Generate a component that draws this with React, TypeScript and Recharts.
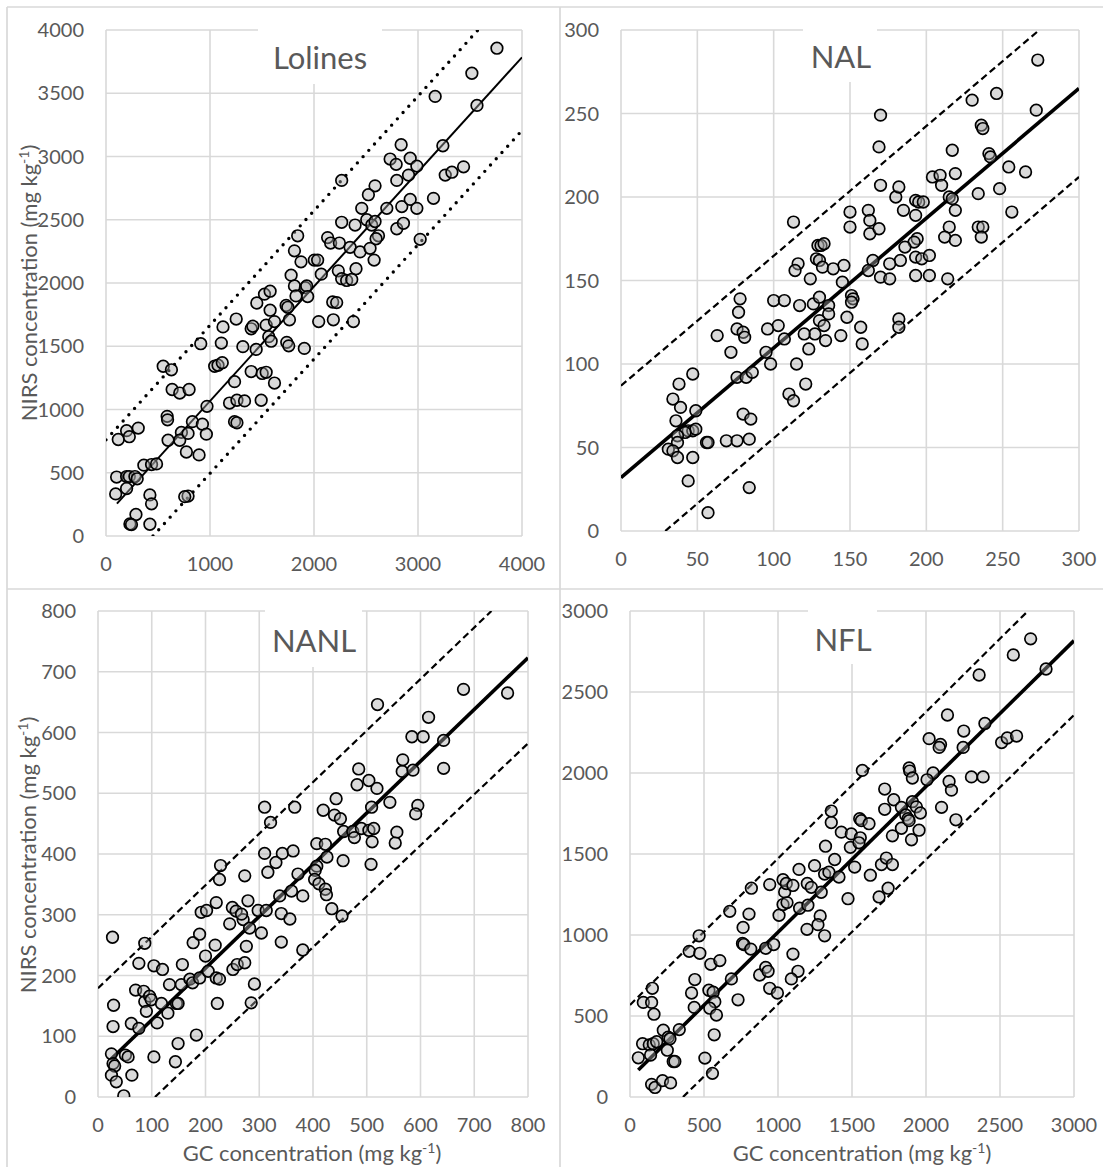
import React from 'react';
import { ScatterChart, Scatter, XAxis, YAxis, CartesianGrid, ReferenceLine } from 'recharts';

type Pt = [number, number];
type Seg = [Pt, Pt];

// ---------- Lolines ----------
const lolinesTicks = [0, 1000, 2000, 3000, 4000];
const lolinesYTicks = [0, 500, 1000, 1500, 2000, 2500, 3000, 3500, 4000];
const lolinesPoints: Pt[] = [
  [118, 763], [198, 833], [224, 785], [310, 853], [102, 466], [93, 333], [198, 470], [224, 470], [278, 470], [300, 452],
  [198, 375], [364, 560], [438, 565], [486, 570], [422, 325], [438, 254], [288, 170], [230, 95], [245, 90], [422, 93],
  [550, 1342], [629, 1314], [636, 1158], [709, 1130], [799, 1158], [588, 946], [592, 918], [597, 757], [725, 819], [709, 757],
  [789, 811], [773, 664], [789, 316], [757, 311], [831, 904], [927, 884], [965, 805], [895, 641], [911, 1520], [971, 1025],
  [1045, 1342], [1077, 1350], [1118, 1370], [1109, 1525], [1125, 1653], [1252, 1715], [1236, 1220], [1188, 1051], [1259, 1073], [1332, 1068],
  [1236, 904], [1259, 895], [1316, 1497], [1396, 1300], [1444, 1475], [1396, 1638], [1412, 1658], [1502, 1285], [1540, 1294], [1620, 1209],
  [1492, 1073], [1450, 1842], [1524, 1912], [1578, 1935], [1540, 1667], [1565, 1576], [1588, 1540], [1578, 1785], [1620, 1695], [1732, 1822],
  [1748, 1808], [1764, 1709], [1738, 1531], [1757, 1503], [1780, 2062], [1812, 1977], [1812, 2254], [1843, 2373], [1827, 1898], [1875, 2167],
  [1917, 1963], [1930, 1977], [1939, 1893], [1907, 1483], [2003, 2181], [2035, 2181], [2070, 2070], [2045, 1695], [2131, 2359], [2160, 2316],
  [3759, 3856], [3518, 3658], [3567, 3404], [3165, 3475], [3239, 3085], [2838, 3093], [2732, 2980], [2790, 2938], [2925, 2986], [2989, 2924],
  [2909, 2853], [2796, 2811], [3262, 2853], [3326, 2876], [3438, 2918], [3149, 2669], [2587, 2768], [2523, 2698], [2459, 2590], [2700, 2590],
  [2844, 2604], [2925, 2661], [2989, 2590], [2266, 2811], [2507, 2500], [2555, 2458], [2587, 2486], [2620, 2373], [2796, 2429], [2860, 2472],
  [3021, 2345], [2266, 2480], [2395, 2458], [2244, 2316], [2347, 2282], [2443, 2246], [2539, 2274], [2597, 2350], [2578, 2181], [2234, 2096],
  [2266, 2034], [2314, 2020], [2363, 2028], [2404, 2113], [2180, 1850], [2218, 1845], [2186, 1709], [2379, 1695],
];
const lolinesFit: Seg = [[105, 256], [4000, 3784]];
const lolinesUpper: Seg = [[0, 760], [3577, 4000]];
const lolinesLower: Seg = [[452, 0], [4000, 3206]];

// ---------- NAL ----------
const nalTicks = [0, 50, 100, 150, 200, 250, 300];
const nalPoints: Pt[] = [
  [113, 185], [116, 160], [114, 156], [124, 151], [117, 135], [126, 136], [129, 171], [131, 171], [133, 172], [128, 163],
  [130, 162], [132, 158], [130, 140], [136, 135], [136, 130], [130, 126], [133, 123], [127, 118], [134, 114], [120, 118],
  [123, 109], [107, 115], [103, 123], [100, 138], [107, 138], [96, 121], [95, 107], [98, 100], [115, 100], [121, 88],
  [110, 82], [113, 78], [78, 139], [77, 131], [76, 121], [80, 119], [81, 116], [63, 117], [72, 107], [76, 92],
  [82, 92], [86, 95], [80, 70], [85, 67], [69, 54], [76, 54], [84, 55], [84, 26], [57, 11], [38, 88],
  [47, 94], [34, 79], [39, 74], [36, 66], [49, 72], [44, 60], [47, 60], [49, 61], [42, 59], [37, 57],
  [37, 53], [31, 49], [34, 48], [37, 44], [47, 44], [44, 30], [56, 53], [57, 53],
  [273, 282], [272, 252], [246, 262], [230, 258], [236, 243], [237, 241], [241, 226], [242, 224], [217, 228], [254, 218],
  [265, 215], [248, 205], [256, 191], [234, 202], [204, 212], [209, 213], [210, 207], [219, 214], [215, 200], [217, 199],
  [219, 192], [215, 182], [212, 176], [219, 174], [234, 182], [237, 182], [236, 176], [170, 249], [169, 230], [170, 207],
  [180, 200], [182, 206], [185, 192], [193, 198], [195, 197], [198, 197], [193, 189], [194, 175], [192, 173], [186, 170],
  [183, 162], [176, 160], [162, 192], [163, 186], [163, 178], [169, 181], [150, 191], [150, 182], [165, 162], [162, 156],
  [170, 152], [176, 151], [193, 164], [197, 163], [202, 165], [193, 153], [202, 153], [214, 151], [146, 159], [139, 157],
  [145, 149], [151, 141], [152, 139], [151, 137], [148, 128], [144, 117], [157, 122], [158, 112], [182, 127], [182, 122],
];
const nalFit: Seg = [[0, 32], [300, 265]];
const nalUpper: Seg = [[0, 87], [274, 300]];
const nalLower: Seg = [[29, 0], [300, 212]];

// ---------- NANL ----------
const nanlTicks = [0, 100, 200, 300, 400, 500, 600, 700, 800];
const nanlPoints: Pt[] = [
  [27, 263], [29, 151], [28, 116], [25, 71], [28, 55], [31, 51], [25, 36], [34, 25], [48, 2], [51, 69],
  [56, 66], [63, 36], [62, 121], [76, 113], [70, 176], [76, 220], [87, 253], [85, 174], [87, 157], [90, 141],
  [96, 166], [99, 160], [104, 216], [120, 210], [110, 122], [104, 66], [130, 138], [133, 185], [118, 154], [146, 154],
  [149, 154], [157, 218], [155, 185], [149, 88], [144, 58], [171, 194], [176, 188], [183, 102], [189, 196], [177, 254],
  [189, 268], [192, 304], [202, 307], [200, 232], [205, 207], [220, 320], [218, 250], [222, 154], [220, 196], [226, 194],
  [226, 358], [228, 381], [250, 312], [257, 306], [245, 285], [251, 210], [259, 218], [273, 221], [276, 248], [270, 292],
  [267, 301], [273, 364], [279, 323], [282, 278], [291, 186], [285, 155], [304, 270], [298, 307], [313, 307], [310, 401],
  [310, 477], [321, 452], [316, 370], [331, 386], [338, 331], [343, 401], [341, 255], [341, 302], [357, 293], [360, 339],
  [363, 405], [366, 477], [372, 367], [381, 331], [381, 242],
  [680, 671], [762, 665], [520, 646], [615, 625], [584, 593], [605, 593], [643, 587], [643, 541], [567, 555], [566, 536],
  [586, 538], [485, 540], [482, 514], [504, 521], [519, 508], [509, 477], [543, 485], [595, 480], [591, 466], [443, 491],
  [419, 472], [440, 464], [451, 458], [457, 437], [474, 437], [477, 427], [490, 442], [504, 439], [513, 442], [510, 420],
  [556, 436], [553, 418], [407, 417], [423, 416], [426, 395], [407, 380], [404, 373], [403, 358], [411, 351], [423, 342],
  [425, 333], [456, 389], [508, 383], [435, 310], [454, 298],
];
const nanlFit: Seg = [[25, 63], [800, 723]];
const nanlUpper: Seg = [[0, 179], [732, 800]];
const nanlLower: Seg = [[106, 0], [800, 582]];

// ---------- NFL ----------
const nflTicks = [0, 500, 1000, 1500, 2000, 2500, 3000];
const nflPoints: Pt[] = [
  [56, 242], [85, 329], [90, 584], [151, 671], [146, 584], [162, 511], [130, 322], [139, 259], [157, 329], [180, 341],
  [225, 412], [258, 369], [270, 360], [252, 289], [292, 219], [303, 219], [333, 416], [146, 78], [169, 59], [220, 101],
  [274, 87], [506, 240], [557, 146], [467, 995], [400, 899], [472, 887], [416, 642], [438, 725], [434, 553], [546, 819],
  [607, 842], [533, 659], [562, 647], [573, 588], [539, 548], [584, 506], [569, 384], [685, 729], [730, 600], [674, 1146],
  [764, 1047], [760, 948], [769, 941], [804, 1129], [820, 1289], [816, 913], [876, 753], [917, 800], [933, 776], [917, 918],
  [944, 671], [944, 1311], [996, 642], [971, 941], [1007, 1122], [1034, 1188], [1061, 1200], [1045, 1266], [1034, 1341], [1056, 1318],
  [1101, 882], [1135, 776], [1090, 729], [1142, 1405], [1101, 1306], [1146, 1165], [1202, 1184], [1196, 1035], [1247, 1428], [1198, 1318],
  [1225, 1294], [1292, 1264], [1285, 1118], [1270, 1064], [1315, 995], [1321, 1548], [1315, 1376], [1344, 1388],
  [2707, 2828], [2590, 2729], [2811, 2642], [2359, 2605], [2145, 2358], [2255, 2259], [2398, 2306], [2021, 2212], [2098, 2176], [2089, 2158],
  [2251, 2158], [2511, 2188], [2549, 2216], [2612, 2228], [1570, 2016], [1886, 2031], [1890, 2012], [1908, 1969], [2048, 2000], [2007, 1958],
  [2307, 1976], [2386, 1976], [2156, 1948], [2172, 1894], [1721, 1901], [1782, 1835], [1834, 1788], [1721, 1776], [1908, 1823], [1935, 1791],
  [1962, 1753], [2105, 1788], [2202, 1711], [1863, 1741], [1879, 1718], [1834, 1659], [1773, 1612], [1886, 1706], [1953, 1647], [1902, 1588],
  [1360, 1765], [1360, 1694], [1552, 1718], [1563, 1706], [1615, 1687], [1428, 1635], [1495, 1624], [1489, 1541], [1556, 1600], [1547, 1569],
  [1383, 1466], [1412, 1358], [1518, 1419], [1624, 1369], [1699, 1435], [1732, 1475], [1773, 1435], [1744, 1289], [1683, 1235], [1473, 1224],
];
const nflFit: Seg = [[56, 167], [3000, 2817]];
const nflUpper: Seg = [[0, 568], [2689, 3000]];
const nflLower: Seg = [[358, 0], [3000, 2358]];

const FONT = 'Lato, "Open Sans", sans-serif';
const TEXT = '#595959';
const GRID = '#d9d9d9';

const Marker = (props: any) => {
  if (props.cx == null || props.cy == null) return null;
  return (
    <circle cx={props.cx} cy={props.cy} r={5.8} fill="#a6a6a6" fillOpacity={0.42} stroke="#000" strokeWidth={1.7} />
  );
};

interface PanelProps {
  left: number; top: number; width: number; height: number;
  marginTop: number; marginRight: number; yAxisWidth: number; xAxisHeight: number;
  points: Pt[]; xTicks: number[]; yTicks: number[];
  fit: Seg; upper: Seg; lower: Seg; dotted: boolean; fitWidth: number;
}

const seg = (s: Seg) => [{ x: s[0][0], y: s[0][1] }, { x: s[1][0], y: s[1][1] }];

function Panel(p: PanelProps) {
  const data = p.points.map(([x, y]) => ({ x, y }));
  const xMax = p.xTicks[p.xTicks.length - 1];
  const yMax = p.yTicks[p.yTicks.length - 1];
  const bandProps = p.dotted
    ? { stroke: '#000', strokeWidth: 3.4, strokeDasharray: '0 8.5', strokeLinecap: 'round' as const }
    : { stroke: '#000', strokeWidth: 2.2, strokeDasharray: '7 4' };
  const tick = { fill: TEXT, fontSize: 20, fontFamily: FONT };
  return (
    <div style={{ position: 'absolute', left: p.left, top: p.top }}>
      <ScatterChart width={p.width} height={p.height}
        margin={{ top: p.marginTop, right: p.marginRight, bottom: 0, left: 0 }}>
        <CartesianGrid stroke={GRID} strokeWidth={1.6} />
        <XAxis type="number" dataKey="x" domain={[0, xMax]} ticks={p.xTicks} interval={0}
          allowDataOverflow height={p.xAxisHeight} axisLine={false} tickLine={false}
          tickSize={0} tickMargin={21} tick={tick} />
        <YAxis type="number" dataKey="y" domain={[0, yMax]} ticks={p.yTicks} interval={0}
          allowDataOverflow width={p.yAxisWidth} axisLine={false} tickLine={false}
          tickSize={0} tickMargin={22} tick={tick} />
        <Scatter data={data} shape={Marker} isAnimationActive={false} />
        <ReferenceLine segment={seg(p.upper)} ifOverflow="hidden" {...bandProps} />
        <ReferenceLine segment={seg(p.lower)} ifOverflow="hidden" {...bandProps} />
        <ReferenceLine segment={seg(p.fit)} ifOverflow="hidden" stroke="#000" strokeWidth={p.fitWidth} />
      </ScatterChart>
    </div>
  );
}

function Title({ text, cx, cy, box }: { text: string; cx: number; cy: number; box: [number, number, number, number] }) {
  return (
    <g>
      <rect x={box[0]} y={box[1]} width={box[2] - box[0]} height={box[3] - box[1]} fill="#fff" />
      <text x={cx} y={cy} dy="0.36em" textAnchor="middle" fill={TEXT} fontSize={31} fontFamily={FONT}>{text}</text>
    </g>
  );
}

function AxisTitle({ cx, cy, text, rotate }: { cx: number; cy: number; text: string; rotate?: boolean }) {
  return (
    <text x={cx} y={cy} dy="0.36em" textAnchor="middle" fill={TEXT} fontSize={22} fontFamily={FONT}
      transform={rotate ? `rotate(-90 ${cx} ${cy})` : undefined}>
      {text}
      <tspan dy={-8} fontSize={14}>-1</tspan>
      <tspan dy={8}>)</tspan>
    </text>
  );
}

export default function App() {
  return (
    <div style={{ position: 'absolute', left: 0, top: 0, width: 1103, height: 1167, background: '#fff', overflow: 'hidden' }}>
      <Panel left={0} top={0} width={560} height={589} marginTop={30} marginRight={38} yAxisWidth={106} xAxisHeight={53}
        points={lolinesPoints} xTicks={lolinesTicks} yTicks={lolinesYTicks}
        fit={lolinesFit} upper={lolinesUpper} lower={lolinesLower} dotted fitWidth={2} />
      <Panel left={560} top={0} width={543} height={589} marginTop={30} marginRight={24} yAxisWidth={61} xAxisHeight={58}
        points={nalPoints} xTicks={nalTicks} yTicks={nalTicks}
        fit={nalFit} upper={nalUpper} lower={nalLower} dotted={false} fitWidth={3.6} />
      <Panel left={0} top={589} width={560} height={578} marginTop={22} marginRight={32} yAxisWidth={98} xAxisHeight={70}
        points={nanlPoints} xTicks={nanlTicks} yTicks={nanlTicks}
        fit={nanlFit} upper={nanlUpper} lower={nanlLower} dotted={false} fitWidth={3.6} />
      <Panel left={560} top={589} width={543} height={578} marginTop={22} marginRight={29} yAxisWidth={70} xAxisHeight={70}
        points={nflPoints} xTicks={nflTicks} yTicks={nflTicks}
        fit={nflFit} upper={nflUpper} lower={nflLower} dotted={false} fitWidth={3.6} />
      <svg width={1103} height={1167} style={{ position: 'absolute', left: 0, top: 0, pointerEvents: 'none' }}>
        <line x1={7} y1={7} x2={1103} y2={7} stroke={GRID} strokeWidth={1.7} />
        <line x1={7} y1={7} x2={7} y2={1167} stroke={GRID} strokeWidth={1.7} />
        <line x1={560} y1={7} x2={560} y2={1167} stroke={GRID} strokeWidth={1.7} />
        <line x1={7} y1={589} x2={1103} y2={589} stroke={GRID} strokeWidth={1.7} />
        <Title text="Lolines" cx={320} cy={58} box={[258, 27, 382, 84]} />
        <Title text="NAL" cx={841} cy={57} box={[803, 27, 877, 82]} />
        <Title text="NANL" cx={314} cy={641} box={[265, 609, 362, 667]} />
        <Title text="NFL" cx={843} cy={640} box={[808, 609, 877, 664]} />
        <AxisTitle cx={29.5} cy={283} text="NIRS concentration (mg kg" rotate />
        <AxisTitle cx={28} cy={855} text="NIRS concentration (mg kg" rotate />
        <AxisTitle cx={312} cy={1153} text="GC concentration (mg kg" />
        <AxisTitle cx={862} cy={1153} text="GC concentration (mg kg" />
      </svg>
    </div>
  );
}
